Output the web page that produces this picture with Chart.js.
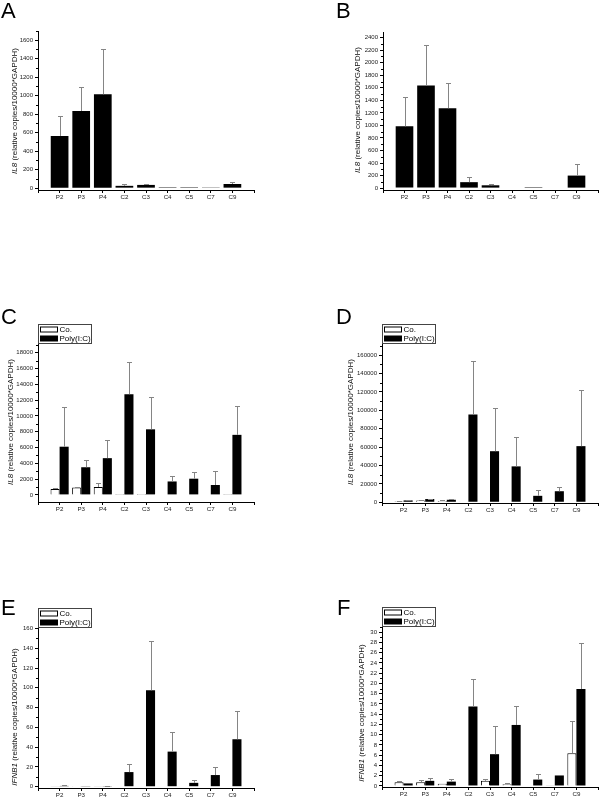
<!DOCTYPE html>
<html>
<head>
<meta charset="utf-8">
<script src="https://cdn.jsdelivr.net/npm/chart.js@4.4.1/dist/chart.umd.min.js"></script>
<style>
  body { margin: 0; background: #fff; width: 600px; height: 799px; position: relative; overflow: hidden;
         font-family: Arial, "Liberation Sans", sans-serif; }
  .panel { position: absolute; }
  .letter { position: absolute; font-size: 22px; line-height: 22px; color: #000; }
  .ytitle { position: absolute; font-size: 8px; line-height: 9px; white-space: nowrap; color: #111;
            transform: translate(-50%, -50%) rotate(-90deg); }
</style>
</head>
<body>
<script>
// categories shared by all panels
var categories = ['P2', 'P3', 'P4', 'C2', 'C3', 'C4', 'C5', 'C7', 'C9'];

// A: IL8, single series
var aValues = [565, 835, 1015, 25, 35, 10, 10, 8, 45];
var aErrTop = [780, 1090, 1500, 45, 45, null, null, null, 70];
var aTicks  = [0, 200, 400, 600, 800, 1000, 1200, 1400, 1600];

// B: IL8, single series
var bValues = [985, 1635, 1275, 95, 45, 0, 15, 0, 200];
var bErrTop = [1460, 2275, 1670, 175, 65, null, null, null, 380];
var bTicks  = [0, 200, 400, 600, 800, 1000, 1200, 1400, 1600, 1800, 2000, 2200, 2400];

// C: IL8, Co. vs Poly(I:C)
var cCo      = [750, 950, 1000, 100, 100, 50, 50, 50, 100];
var cCoErr   = [850, 1000, 1550, null, null, null, null, null, null];
var cPoly    = [6100, 3500, 4650, 12750, 8300, 1700, 2050, 1250, 7600];
var cPolyErr = [11100, 4450, 6950, 16850, 12400, 2400, 2950, 3000, 11300];
var cTicks   = [0, 2000, 4000, 6000, 8000, 10000, 12000, 14000, 16000, 18000];

// D: IL8, Co. vs Poly(I:C)
var dCo      = [1000, 2000, 1500, 300, 0, 0, 0, 0, 500];
var dCoErr   = [1500, 2500, 2000, null, null, null, null, null, null];
var dPoly    = [2000, 3500, 2700, 95500, 55500, 39000, 7000, 12000, 61000];
var dPolyErr = [2500, 4000, 3200, 154000, 102000, 71000, 13000, 17000, 122000];
var dTicks   = [0, 20000, 40000, 60000, 80000, 100000, 120000, 140000, 160000];

// E: IFNB1, Co. vs Poly(I:C)
var eCo      = [0.2, 0.1, 0.3, 0, 0, 0, 0, 0, 0];
var eCoErr   = [null, null, null, null, null, null, null, null, null];
var ePoly    = [0.8, 0.3, 0.7, 14.8, 97.5, 35.5, 3.9, 11.8, 48];
var ePolyErr = [1.5, null, 1.1, 22.8, 147, 55, 6.6, 19.7, 77];
var eTicks   = [0, 20, 40, 60, 80, 100, 120, 140, 160];

// F: IFNB1, Co. vs Poly(I:C)
var fCo      = [0.75, 0.75, 0.45, 0, 1.0, 0.35, 0.1, 0.05, 6.4];
var fCoErr   = [0.9, 1.15, null, null, 1.3, 0.5, null, null, 12.7];
var fPoly    = [0.5, 1.0, 0.85, 15.5, 6.2, 11.9, 1.25, 2.05, 18.9];
var fPolyErr = [null, 1.65, 1.3, 20.9, 11.7, 15.5, 2.3, null, 27.8];
var fTicks   = [0, 2, 4, 6, 8, 10, 12, 14, 16, 18, 20, 22, 24, 26, 28, 30];

Chart.defaults.font.family = 'Arial, "Liberation Sans", sans-serif';
Chart.defaults.color = '#1a1a1a';

// pad the category axis with an empty slot at each end, like Origin does
function padded(arr) { return [null].concat(arr, [null]); }

// upper-only error bars with a cap
var errorBars = {
    id: 'errorBars',
    afterDatasetsDraw: function(chart) {
        var ctx = chart.ctx, y = chart.scales.y;
        ctx.save();
        ctx.strokeStyle = '#858585';
        ctx.lineWidth = 1;
        chart.data.datasets.forEach(function(ds, i) {
            if (!ds.errTop) return;
            var meta = chart.getDatasetMeta(i);
            meta.data.forEach(function(bar, j) {
                var e = ds.errTop[j];
                if (e === null || e === undefined) return;
                var top = Math.round(y.getPixelForValue(e)) + 0.5;
                var x = Math.round(bar.x) + 0.5;
                ctx.beginPath();
                ctx.moveTo(x, bar.y);
                ctx.lineTo(x, top);
                ctx.moveTo(x - 2.5, top);
                ctx.lineTo(x + 2.5, top);
                ctx.stroke();
            });
        });
        ctx.restore();
    }
};

// small ticks halfway between the labelled ones
var minorTicks = {
    id: 'minorTicks',
    afterDraw: function(chart) {
        var y = chart.scales.y, ctx = chart.ctx, left = chart.chartArea.left;
        var vals = y.ticks.map(function(t) { return t.value; });
        var step = vals[1] - vals[0];
        ctx.save();
        ctx.strokeStyle = '#000';
        ctx.lineWidth = 1;
        ctx.beginPath();
        for (var v = vals[0] + step / 2; v <= y.max; v += step) {
            var py = Math.round(y.getPixelForValue(v)) + 0.5;
            ctx.moveTo(left, py);
            ctx.lineTo(left - 2, py);
        }
        ctx.stroke();
        ctx.restore();
    }
};

// framed legend sitting on top of the y axis
var boxLegend = {
    id: 'boxLegend',
    afterDraw: function(chart, args, opts) {
        if (!opts.show) return;
        var ctx = chart.ctx;
        var left = Math.round(chart.chartArea.left) + 0.5;
        var bottom = Math.round(chart.chartArea.top) - 0.5;
        var w = 53, h = 19, top = bottom - h;
        ctx.save();
        ctx.fillStyle = '#fff';
        ctx.fillRect(left, top, w, h);
        ctx.strokeStyle = '#444';
        ctx.lineWidth = 1;
        ctx.strokeRect(left, top, w, h);
        ctx.font = '8px Arial, "Liberation Sans", sans-serif';
        ctx.textBaseline = 'middle';
        chart.data.datasets.forEach(function(ds, i) {
            var cy = top + 5 + i * 9;
            ctx.fillStyle = ds.backgroundColor;
            ctx.fillRect(left + 2, cy - 2.5, 17, 5);
            ctx.strokeStyle = '#000';
            ctx.strokeRect(left + 2, cy - 2.5, 17, 5);
            ctx.fillStyle = '#000';
            ctx.fillText(ds.label, left + 21, cy + 0.5);
        });
        ctx.restore();
    }
};

function addText(cls, x, y, html) {
    var el = document.createElement('div');
    el.className = cls;
    el.style.left = x + 'px';
    el.style.top = y + 'px';
    el.innerHTML = html;
    document.body.appendChild(el);
}

// box = [x, y, w, h] of the canvas, plot = [left, right, top, bottom] in page pixels
function makePanel(p) {
    var div = document.createElement('div');
    div.className = 'panel';
    div.style.left = p.box[0] + 'px';
    div.style.top = p.box[1] + 'px';
    var canvas = document.createElement('canvas');
    canvas.width = p.box[2];
    canvas.height = p.box[3];
    div.appendChild(canvas);
    document.body.appendChild(div);

    var yW = 30, xH = 20;
    var datasets;
    if (p.co) {
        datasets = [
            { label: 'Co.', data: padded(p.co), errTop: padded(p.coErr), backgroundColor: '#ffffff',
              borderColor: '#000', borderWidth: 1, categoryPercentage: 0.84, barPercentage: 1 },
            { label: 'Poly(I:C)', data: padded(p.values), errTop: padded(p.err), backgroundColor: '#000000',
              borderColor: '#000', borderWidth: 0, categoryPercentage: 0.84, barPercentage: 1 }
        ];
    } else {
        datasets = [
            { label: 'value', data: padded(p.values), errTop: padded(p.err), backgroundColor: '#000000',
              borderWidth: 0, categoryPercentage: 0.82, barPercentage: 1 }
        ];
    }

    new Chart(canvas.getContext('2d'), {
        type: 'bar',
        data: { labels: [''].concat(categories, ['']), datasets: datasets },
        options: {
            responsive: false,
            animation: false,
            layout: {
                padding: {
                    left: p.plot[0] - p.box[0] - yW,
                    right: p.box[0] + p.box[2] - p.plot[1],
                    top: p.plot[2] - p.box[1],
                    bottom: p.box[1] + p.box[3] - p.plot[3] - xH
                }
            },
            plugins: {
                legend: { display: false },
                tooltip: { enabled: false },
                boxLegend: { show: !!p.co }
            },
            scales: {
                x: {
                    offset: false,
                    grid: { offset: false, drawOnChartArea: false, tickLength: 3, color: '#000' },
                    border: { color: '#000', width: 1 },
                    ticks: { autoSkip: false, maxRotation: 0, padding: 1, font: { size: 6.2 } },
                    afterFit: function(s) { s.height = xH; }
                },
                y: {
                    min: p.min,
                    max: p.max,
                    afterBuildTicks: function(s) { s.ticks = p.ticks.map(function(v) { return { value: v }; }); },
                    grid: { drawOnChartArea: false, tickLength: 3, color: '#000' },
                    border: { color: '#000', width: 1 },
                    ticks: {
                        autoSkip: false, padding: 2, font: { size: 6 },
                        callback: function(v) { return String(v); }
                    },
                    afterFit: function(s) { s.width = yW; }
                }
            }
        },
        plugins: [errorBars, minorTicks, boxLegend]
    });
}

makePanel({ box: [0, 0, 300, 265],   plot: [38, 254, 31, 190],   min: -20,  max: 1700,   ticks: aTicks, values: aValues, err: aErrTop });
makePanel({ box: [300, 0, 300, 265], plot: [383, 598, 32, 190],  min: -30,  max: 2490,   ticks: bTicks, values: bValues, err: bErrTop });
makePanel({ box: [0, 265, 300, 275],   plot: [38, 254, 344, 502],  min: -900, max: 19100, ticks: cTicks, co: cCo, coErr: cCoErr, values: cPoly, err: cPolyErr });
makePanel({ box: [300, 265, 300, 275], plot: [382, 598, 344, 503], min: -800, max: 172000, ticks: dTicks, co: dCo, coErr: dCoErr, values: dPoly, err: dPolyErr });
makePanel({ box: [0, 540, 300, 259],   plot: [38, 254, 628, 788],  min: -1.3, max: 160.5, ticks: eTicks, co: eCo, coErr: eCoErr, values: ePoly, err: ePolyErr });
makePanel({ box: [300, 540, 300, 259], plot: [382, 598, 627, 787], min: -0.2, max: 31,    ticks: fTicks, co: fCo, coErr: fCoErr, values: fPoly, err: fPolyErr });

// panel letters
addText('letter', 1, 0, 'A');
addText('letter', 336, 0, 'B');
addText('letter', 1, 306, 'C');
addText('letter', 336, 306, 'D');
addText('letter', 1, 597, 'E');
addText('letter', 337, 597, 'F');

// rotated y-axis titles, centred on the given point
var il8Title = '<i>IL8</i> (relative copies/10000*GAPDH)';
var ifnTitle = '<i>IFNB1</i> (relative copies/10000*GAPDH)';
addText('ytitle', 14, 111, il8Title);
addText('ytitle', 357, 110, il8Title);
addText('ytitle', 9.5, 422, il8Title);
addText('ytitle', 350, 422, il8Title);
addText('ytitle', 14, 717, ifnTitle);
addText('ytitle', 361, 713, ifnTitle);
</script>
</body>
</html>
